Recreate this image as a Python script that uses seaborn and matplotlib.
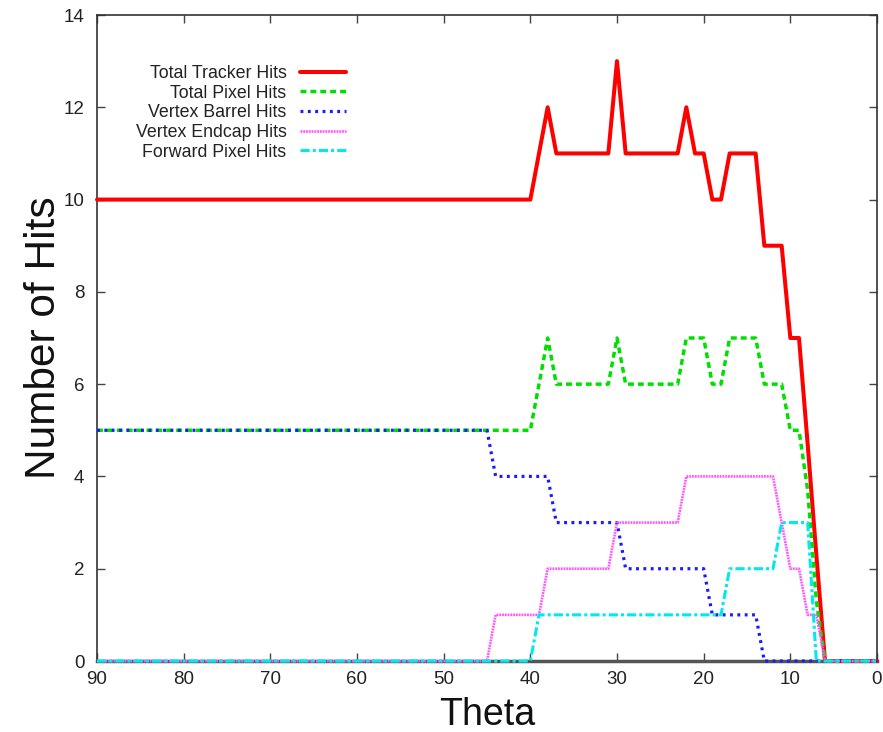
import matplotlib
matplotlib.use("Agg")
import matplotlib.pyplot as plt
import seaborn as sns
import pandas as pd

# ---- data ----
tracker_theta = [90, 40, 38, 37, 31, 30, 29, 23, 22, 21, 20, 19, 18, 17, 14, 13, 11, 10, 9, 8, 7, 6, 0]
tracker_hits = [10, 10, 12, 11, 11, 13, 11, 11, 12, 11, 11, 10, 10, 11, 11, 9, 9, 7, 7, 4.7, 2.3, 0, 0]

pixel_theta = [90, 40, 38, 37, 31, 30, 29, 23, 22, 20, 19, 18, 17, 14, 13, 11, 10, 9, 8, 7, 6, 0]
pixel_hits = [5, 5, 7, 6, 6, 7, 6, 6, 7, 7, 6, 6, 7, 7, 6, 6, 5, 5, 3.7, 1.3, 0, 0]

barrel_theta = [90, 45, 44, 38, 37, 30, 29, 20, 19, 14, 13, 0]
barrel_hits = [5, 5, 4, 4, 3, 3, 2, 2, 1, 1, 0, 0]

endcap_theta = [90, 45, 44, 39, 38, 31, 30, 23, 22, 12, 11, 10, 9, 8, 7, 6, 0]
endcap_hits = [0, 0, 1, 1, 2, 2, 3, 3, 4, 4, 3, 2, 2, 1, 1, 0, 0]

fpix_theta = [90, 40, 39, 18, 17, 12, 11, 8, 7, 0]
fpix_hits = [0, 0, 1, 1, 2, 2, 3, 3, 0, 0]

series_labels = ["Total Tracker Hits", "Total Pixel Hits", "Vertex Barrel Hits",
                 "Vertex Endcap Hits", "Forward Pixel Hits"]
x_ticks = [90, 80, 70, 60, 50, 40, 30, 20, 10, 0]
y_ticks = [0, 2, 4, 6, 8, 10, 12, 14]

# ---- style ----
sns.set_theme(style="ticks")
plt.rcParams['font.family'] = ['Liberation Sans', 'DejaVu Sans']

fig = plt.figure(figsize=(8.83, 7.32), dpi=100)
ax = fig.add_axes([97 / 883, 71 / 732, 780 / 883, 646 / 732])

styles = [
    dict(color="#ff0000", lw=2.9, ls="-"),
    dict(color="#00e000", lw=2.5, ls=(0, (1.7, 1.15))),
    dict(color="#1a1aff", lw=2.3, ls=(0, (0.9, 1.4))),
    dict(color="#ff55ff", lw=1.9, ls=(0, (0.7, 0.35))),
    dict(color="#00e8f0", lw=2.2, ls=(0, (3.0, 1.0, 1.0, 1.0))),
]
data = [(tracker_theta, tracker_hits), (pixel_theta, pixel_hits),
        (barrel_theta, barrel_hits), (endcap_theta, endcap_hits),
        (fpix_theta, fpix_hits)]

for (th, hv), lab, st in zip(data, series_labels, styles):
    df = pd.DataFrame({"Theta": th, "Hits": hv})
    sns.lineplot(data=df, x="Theta", y="Hits", ax=ax, color=st["color"],
                 linewidth=st["lw"], linestyle=st["ls"], label=lab,
                 sort=False, clip_on=False, zorder=3)

ax.set_xlim(90, 0)
ax.set_ylim(0, 14)
ax.set_xticks(x_ticks)
ax.set_yticks(y_ticks)
ax.set_xticklabels([str(v) for v in x_ticks], fontsize=13.5)
ax.set_yticklabels([str(v) for v in y_ticks], fontsize=13.5)
ax.tick_params(direction="in", length=6, width=1.0, color="#444444",
               top=True, right=True, labelcolor="#222222")
ax.tick_params(axis="y", pad=9)
ax.tick_params(axis="x", pad=7)

for s in ["left", "top", "right"]:
    ax.spines[s].set_color("#333333")
    ax.spines[s].set_linewidth(1.2)
ax.spines["bottom"].set_color("#555555")
ax.spines["bottom"].set_linewidth(2.5)
ax.grid(False)

ax.set_xlabel("Theta", fontsize=27, labelpad=7, color="#111111")
ax.set_ylabel("Number of Hits", fontsize=30.5, labelpad=0, color="#111111")

leg = ax.legend(loc="upper right", bbox_to_anchor=(346 / 883, 1 - 65 / 732),
                bbox_transform=fig.transFigure, frameon=False, markerfirst=False,
                fontsize=12.8, handlelength=2.6, handletextpad=0.75,
                labelspacing=0.15, borderpad=0, borderaxespad=0)
for t in leg.get_texts():
    t.set_color("#222222")

fig.savefig("out.png", dpi=100)
